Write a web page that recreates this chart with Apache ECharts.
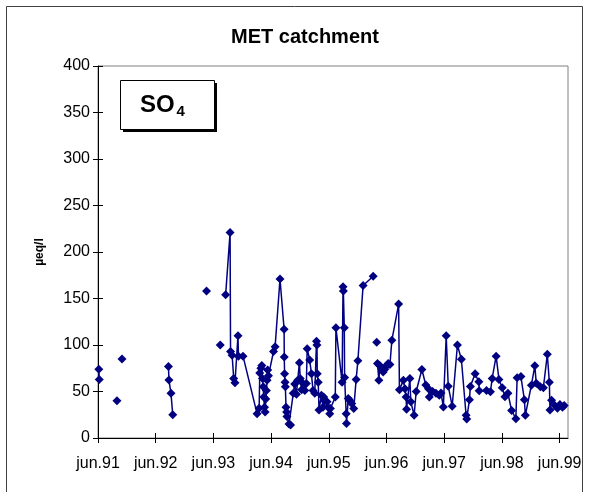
<!DOCTYPE html>
<html>
<head>
<meta charset="utf-8">
<script src="https://cdn.jsdelivr.net/npm/echarts@6/dist/echarts.min.js"></script>
<style>
html,body{margin:0;padding:0;background:#fff;}
#chart{width:589px;height:492px;}
</style>
</head>
<body>
<div id="chart"></div>
<script>
// ---- data ----
const chartTitle = 'MET catchment';
const yAxisTitle = 'µeq/l';
const yMin = 0, yMax = 400, yStep = 50;
const tickYears = [91, 92, 93, 94, 95, 96, 97, 98, 99];
const axisStart = '1991-06-01';

// sampling runs; a new run starts where the original series has a gap
const run1 = [['1991-06-06', 74], ['1991-06-09', 63]];
const run2 = [['1991-09-29', 40]];
const run3 = [['1991-10-31', 85]];
const run4 = [['1992-08-20', 77], ['1992-08-23', 62.5], ['1992-09-05', 48], ['1992-09-16', 25]];
const run5 = [['1993-04-18', 158]];
const run6 = [['1993-07-14', 100]];
const run7 = [
  ['1993-08-17', 154], ['1993-09-14', 221], ['1993-09-17', 93], ['1993-09-27', 89], ['1993-10-07', 64],
  ['1993-10-15', 59.5], ['1993-11-03', 110], ['1993-11-06', 88], ['1993-12-05', 88],
  ['1994-03-04', 26], ['1994-03-17', 32], ['1994-03-21', 70], ['1994-03-28', 75], ['1994-04-03', 78],
  ['1994-04-07', 64], ['1994-04-12', 55], ['1994-04-15', 44], ['1994-04-20', 33], ['1994-04-24', 28],
  ['1994-04-28', 42], ['1994-05-02', 51], ['1994-05-06', 62], ['1994-05-10', 73], ['1994-05-15', 67],
  ['1994-06-16', 93], ['1994-06-26', 98], ['1994-07-27', 171], ['1994-08-22', 117], ['1994-08-23', 87],
  ['1994-08-25', 69], ['1994-08-28', 60], ['1994-08-30', 55], ['1994-09-03', 33], ['1994-09-07', 28],
  ['1994-09-09', 23], ['1994-09-22', 15], ['1994-10-02', 14], ['1994-10-19', 48], ['1994-10-28', 58],
  ['1994-11-08', 47], ['1994-11-16', 62], ['1994-11-27', 81], ['1994-12-02', 64], ['1994-12-11', 52],
  ['1994-12-20', 58.6], ['1994-12-31', 51], ['1995-01-10', 58.6], ['1995-01-15', 96], ['1995-01-31', 84],
  ['1995-02-11', 69], ['1995-02-21', 51], ['1995-03-04', 48], ['1995-03-15', 104], ['1995-03-18', 100],
  ['1995-03-20', 69], ['1995-03-26', 60], ['1995-03-31', 30], ['1995-04-15', 46], ['1995-04-25', 33],
  ['1995-04-29', 44], ['1995-05-06', 40], ['1995-05-21', 39], ['1995-05-27', 33], ['1995-06-07', 26],
  ['1995-06-11', 31.7], ['1995-07-12', 44], ['1995-07-16', 118.6], ['1995-08-24', 60], ['1995-08-30', 162.6],
  ['1995-09-01', 158], ['1995-09-07', 118.6], ['1995-09-09', 65], ['1995-09-19', 26], ['1995-09-21', 15.5],
  ['1995-10-02', 42.5], ['1995-10-11', 40.7], ['1995-10-24', 37], ['1995-11-06', 31.7], ['1995-11-21', 63],
  ['1995-12-02', 83], ['1996-01-04', 164], ['1996-03-08', 174]
];
const run8 = [['1996-03-30', 103]];
const run9 = [
  ['1996-04-04', 80], ['1996-04-13', 62], ['1996-04-19', 78], ['1996-04-30', 75], ['1996-05-10', 71],
  ['1996-05-21', 74], ['1996-05-31', 78], ['1996-06-11', 80], ['1996-06-22', 79], ['1996-07-04', 105],
  ['1996-08-16', 144], ['1996-08-21', 52], ['1996-09-15', 62], ['1996-09-25', 53], ['1996-10-02', 44],
  ['1996-10-05', 31], ['1996-10-26', 64], ['1996-11-01', 39], ['1996-11-22', 24.5], ['1996-12-05', 50],
  ['1997-01-10', 73.6], ['1997-02-04', 57], ['1997-02-21', 53], ['1997-02-26', 44], ['1997-03-19', 50],
  ['1997-04-09', 48], ['1997-04-30', 46], ['1997-05-11', 48.5], ['1997-05-26', 33.4], ['1997-06-13', 110],
  ['1997-06-26', 55.7], ['1997-07-21', 34.2], ['1997-08-23', 100], ['1997-09-17', 84.7], ['1997-10-17', 24.4],
  ['1997-10-21', 20.5], ['1997-11-07', 41], ['1997-11-13', 55.5], ['1997-12-13', 69], ['1998-01-06', 60.4],
  ['1998-01-08', 50.7], ['1998-02-23', 51], ['1998-03-20', 49.6], ['1998-03-31', 64], ['1998-04-25', 88],
  ['1998-05-13', 63], ['1998-06-03', 54], ['1998-06-20', 44.4], ['1998-07-09', 48], ['1998-08-01', 29.6],
  ['1998-08-28', 20.8], ['1998-09-05', 64.8], ['1998-09-29', 66], ['1998-10-21', 41], ['1998-10-27', 24.4],
  ['1998-12-04', 56.7], ['1998-12-26', 77.6], ['1999-01-04', 59], ['1999-01-30', 55], ['1999-02-18', 54],
  ['1999-03-15', 90], ['1999-03-28', 60], ['1999-04-01', 30], ['1999-04-11', 40.6], ['1999-05-02', 35],
  ['1999-05-18', 32], ['1999-06-03', 36], ['1999-06-19', 33], ['1999-06-30', 35]
];
const runs = [run1, run2, run3, run4, run5, run6, run7, run8, run9];
const axisEnd = '1999-07-24';

// ---- build ----
const YEAR_MS = 365.25 * 86400000;
const t0 = Date.parse(axisStart);
const toYears = d => (Date.parse(d) - t0) / YEAR_MS;

const seriesData = [];
runs.forEach((run, i) => {
  if (i > 0) seriesData.push([toYears(run[0][0]), '-']);
  run.forEach(([d, v]) => seriesData.push([toYears(d), v]));
});
const tickVals = tickYears.map((y, i) => i);

const FONT = '"Liberation Sans", Arial, sans-serif';
const chart = echarts.init(document.getElementById('chart'), null, {renderer: 'canvas'});

const gridL = 98, gridT = 66, gridR = 21, gridB = 54;

const baseX = {
  type: 'value', min: 0, max: toYears(axisEnd), gridIndex: 0, position: 'bottom',
  splitLine: {show: false}
};
const baseY = {
  type: 'value', min: yMin, max: yMax, interval: yStep, gridIndex: 0, position: 'left',
  splitLine: {show: false}
};

chart.setOption({
  animation: false,
  backgroundColor: '#fff',
  title: {
    text: chartTitle, left: 300, top: 22, textAlign: 'center',
    textStyle: {fontFamily: FONT, fontWeight: 'bold', fontSize: 20, color: '#000'}
  },
  grid: {
    left: gridL, top: gridT, right: gridR, bottom: gridB, show: true,
    borderColor: '#808080', borderWidth: 1, backgroundColor: 'transparent'
  },
  xAxis: [
    Object.assign({}, baseX, {
      axisLine: {show: true, lineStyle: {color: '#000', width: 1}},
      axisTick: {show: true, length: 5, customValues: tickVals, lineStyle: {color: '#000'}},
      axisLabel: {
        show: true, customValues: tickVals, margin: 18, color: '#000',
        fontFamily: FONT, fontSize: 16,
        formatter: v => 'jun.' + tickYears[Math.round(v)]
      }
    }),
    Object.assign({}, baseX, {
      axisLine: {show: false},
      axisTick: {show: true, inside: true, length: 5, customValues: tickVals, lineStyle: {color: '#000'}},
      axisLabel: {show: false}
    })
  ],
  yAxis: [
    Object.assign({}, baseY, {
      name: yAxisTitle, nameLocation: 'middle', nameRotate: 90, nameGap: 52,
      nameTextStyle: {fontFamily: FONT, fontWeight: 'bold', fontSize: 12, color: '#000'},
      axisLine: {show: true, lineStyle: {color: '#000', width: 1}},
      axisTick: {show: true, length: 5, lineStyle: {color: '#000'}},
      axisLabel: {show: true, margin: 8, color: '#000', fontFamily: FONT, fontSize: 16}
    }),
    Object.assign({}, baseY, {
      axisLine: {show: false},
      axisTick: {show: true, inside: true, length: 5, lineStyle: {color: '#000'}},
      axisLabel: {show: false}
    })
  ],
  series: [{
    type: 'line', xAxisIndex: 0, yAxisIndex: 0, data: seriesData,
    connectNulls: false,
    symbol: 'diamond', symbolSize: 9, showSymbol: true,
    lineStyle: {color: '#000080', width: 1.5},
    itemStyle: {color: '#000080', borderWidth: 0},
    z: 5
  }],
  graphic: [
    {type: 'rect', shape: {x: 6.5, y: 6.5, width: 576, height: 500},
     style: {fill: 'none', stroke: '#404040', lineWidth: 1}, silent: true, z: 0},
    {type: 'rect', shape: {x: 123, y: 83, width: 94, height: 49},
     style: {fill: '#000'}, silent: true, z: 20},
    {type: 'rect', shape: {x: 120.5, y: 80.5, width: 94, height: 49},
     style: {fill: '#fff', stroke: '#000', lineWidth: 1}, silent: true, z: 21},
    {type: 'text', x: 140, y: 93,
     style: {text: 'SO', fontFamily: FONT, fontWeight: 'bold', fontSize: 24, fill: '#000'}, silent: true, z: 22},
    {type: 'text', x: 176.5, y: 104,
     style: {text: '4', fontFamily: FONT, fontWeight: 'bold', fontSize: 15, fill: '#000'}, silent: true, z: 22}
  ]
});
</script>
</body>
</html>
